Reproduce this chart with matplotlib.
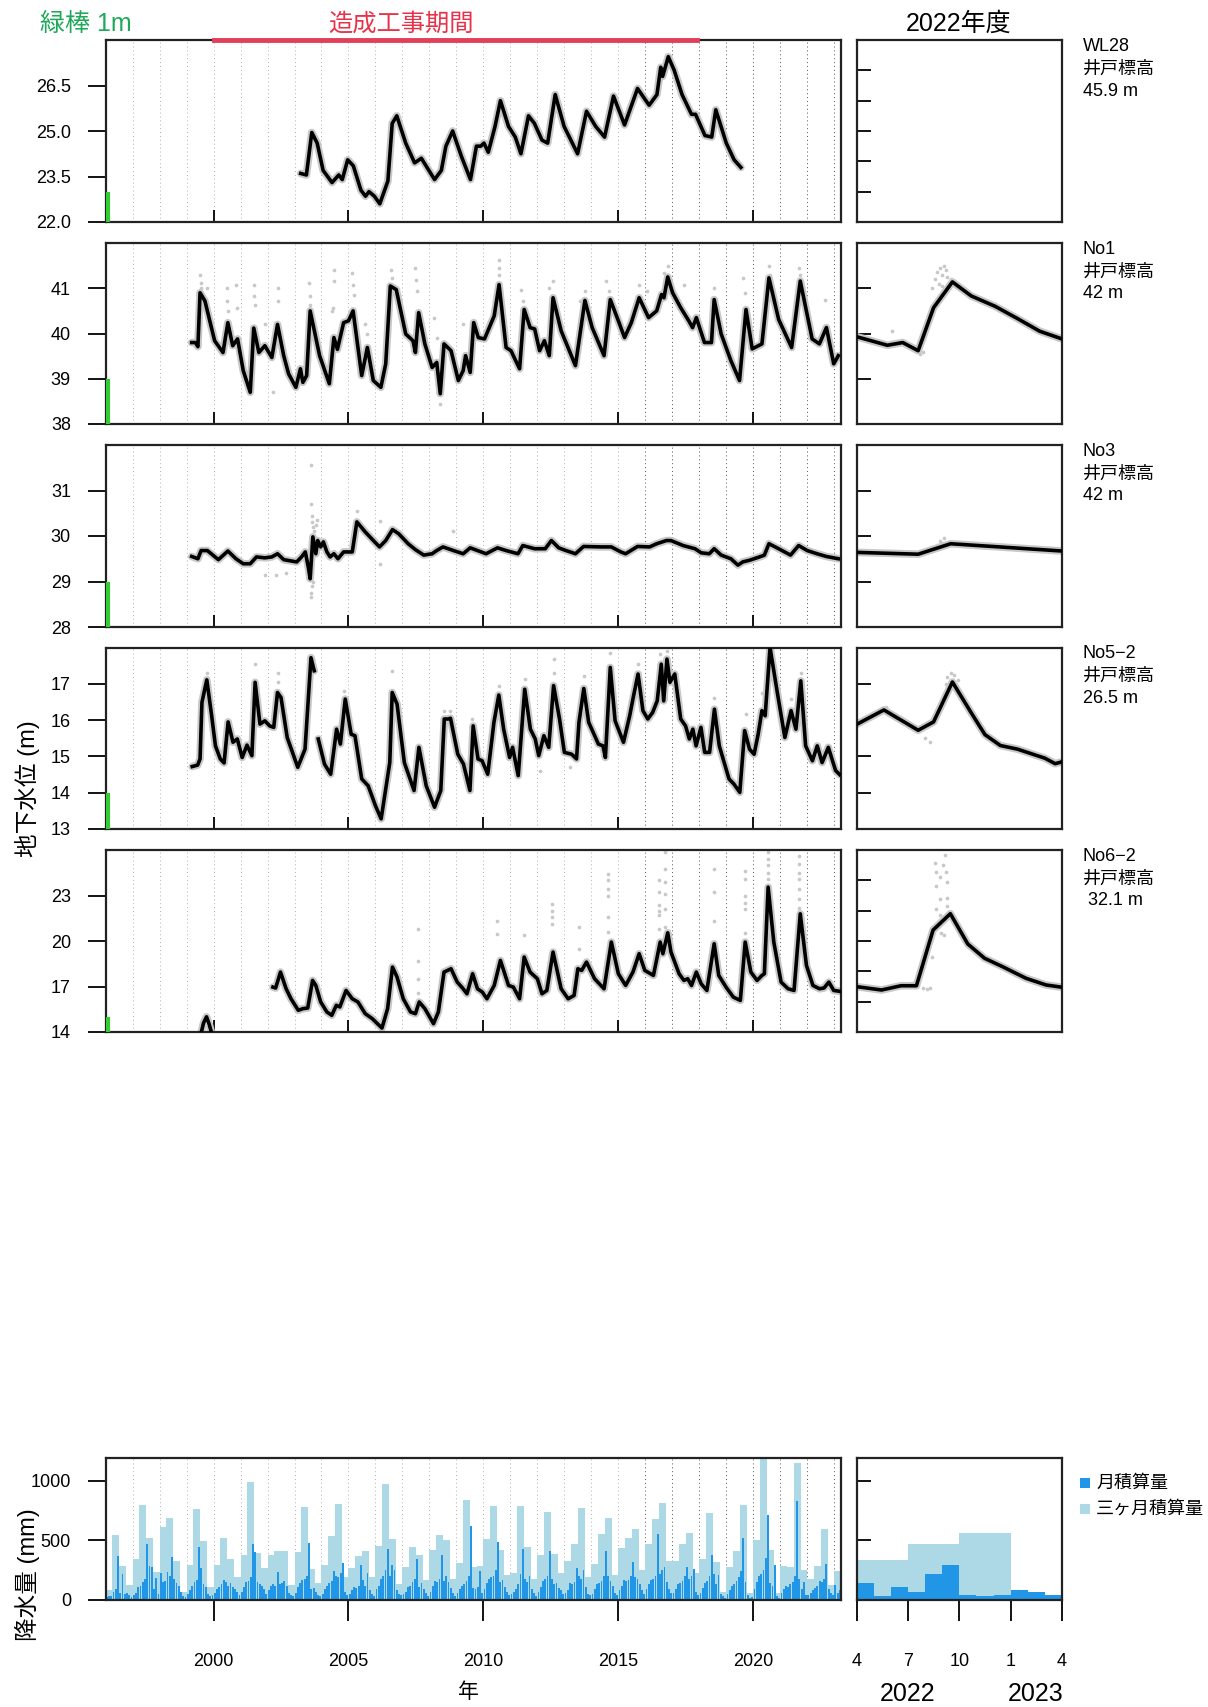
import matplotlib.pyplot as plt
from matplotlib.patches import Rectangle
import numpy as np

plt.rcParams['font.family'] = ['Liberation Sans', 'Noto Sans CJK JP', 'DejaVu Sans']

# ---- groundwater level series (year, m) ----
wl28_t = [2003.23, 2003.44, 2003.64, 2003.84, 2004.06, 2004.39, 2004.64, 2004.77, 2004.97, 2005.18,
          2005.46, 2005.63, 2005.76, 2005.96, 2006.16, 2006.46, 2006.62, 2006.79, 2007.12, 2007.45,
          2007.70, 2008.19, 2008.44, 2008.61, 2008.86, 2009.19, 2009.52, 2009.74, 2009.90, 2010.02,
          2010.18, 2010.43, 2010.63, 2010.93, 2011.18, 2011.39, 2011.67, 2011.89, 2012.17, 2012.38,
          2012.66, 2012.99, 2013.49, 2013.82, 2014.16, 2014.49, 2014.82, 2015.23, 2015.71, 2016.14,
          2016.43, 2016.57, 2016.64, 2016.85, 2017.07, 2017.36, 2017.71, 2017.86, 2018.21, 2018.46,
          2018.61, 2019.00, 2019.29, 2019.54]
wl28_v = [23.6, 23.55, 24.95, 24.6, 23.7, 23.3, 23.55, 23.4, 24.05, 23.85,
          23.05, 22.85, 23.0, 22.85, 22.6, 23.35, 25.25, 25.5, 24.6, 23.95,
          24.1, 23.4, 23.7, 24.5, 25.0, 24.15, 23.4, 24.5, 24.5, 24.6,
          24.3, 25.15, 26.0, 25.15, 24.8, 24.25, 25.5, 25.25, 24.7, 24.6,
          26.2, 25.15, 24.25, 25.65, 25.15, 24.8, 26.15, 25.2, 26.4, 25.85,
          26.2, 27.1, 26.8, 27.45, 27.0, 26.2, 25.55, 25.55, 24.85, 24.8,
          25.7, 24.6, 24.05, 23.8]

no1_t = [1999.19, 1999.33, 1999.42, 1999.50, 1999.68, 2000.04, 2000.35, 2000.53, 2000.71, 2000.89,
         2001.10, 2001.36, 2001.49, 2001.68, 2001.90, 2002.16, 2002.37, 2002.60, 2002.78, 2003.05,
         2003.22, 2003.31, 2003.45, 2003.58, 2003.93, 2004.29, 2004.46, 2004.59, 2004.82, 2005.00,
         2005.17, 2005.49, 2005.70, 2005.92, 2006.20, 2006.38, 2006.55, 2006.77, 2007.12, 2007.39,
         2007.48, 2007.60, 2007.83, 2008.10, 2008.27, 2008.40, 2008.54, 2008.80, 2009.07, 2009.25,
         2009.34, 2009.51, 2009.64, 2009.81, 2010.04, 2010.40, 2010.58, 2010.84, 2011.02, 2011.34,
         2011.51, 2011.73, 2011.90, 2012.08, 2012.26, 2012.44, 2012.58, 2012.88, 2013.41, 2013.76,
         2014.03, 2014.47, 2014.70, 2015.00, 2015.23, 2015.48, 2015.77, 2016.12, 2016.42, 2016.60,
         2016.69, 2016.83, 2017.01, 2017.31, 2017.61, 2017.75, 2017.89, 2018.19, 2018.45, 2018.55,
         2018.81, 2019.17, 2019.49, 2019.73, 2019.96, 2020.32, 2020.58, 2020.94, 2021.42, 2021.74,
         2022.18, 2022.45, 2022.71, 2022.98, 2023.15]
no1_v = [39.80, 39.80, 39.71, 40.90, 40.72, 39.84, 39.58, 40.24, 39.73, 39.88,
         39.18, 38.70, 40.12, 39.58, 39.73, 39.47, 40.20, 39.51, 39.11, 38.81,
         39.22, 38.92, 39.07, 40.50, 39.51, 38.89, 39.91, 39.65, 40.24, 40.28,
         40.50, 39.07, 39.69, 38.96, 38.81, 39.33, 41.05, 40.97, 39.99, 39.84,
         39.58, 40.46, 39.77, 39.25, 39.36, 38.67, 39.77, 39.62, 38.96, 39.18,
         39.51, 39.14, 40.24, 39.91, 39.88, 40.39, 41.08, 39.69, 39.62, 39.22,
         40.53, 40.13, 40.10, 39.62, 39.84, 39.51, 40.79, 40.06, 39.29, 40.73,
         40.13, 39.51, 40.75, 40.28, 39.91, 40.24, 40.79, 40.35, 40.50, 40.86,
         40.79, 41.25, 40.90, 40.57, 40.28, 40.13, 40.35, 39.80, 39.80, 40.75,
         39.99, 39.40, 38.96, 40.53, 39.66, 39.77, 41.23, 40.31, 39.69, 41.16,
         39.88, 39.77, 40.13, 39.33, 39.51]

no3_t = [1999.19, 1999.33, 1999.42, 1999.54, 1999.77, 2000.18, 2000.53, 2000.83, 2001.10, 2001.36,
         2001.59, 2001.90, 2002.16, 2002.37, 2002.60, 2003.08, 2003.26, 2003.40, 2003.51, 2003.58,
         2003.68, 2003.79, 2003.86, 2003.97, 2004.07, 2004.20, 2004.32, 2004.46, 2004.61, 2004.82,
         2005.14, 2005.31, 2005.62, 2005.97, 2006.15, 2006.38, 2006.63, 2006.86, 2007.21, 2007.48,
         2007.79, 2008.10, 2008.27, 2008.50, 2008.89, 2009.25, 2009.51, 2009.78, 2010.10, 2010.52,
         2010.84, 2011.28, 2011.46, 2011.90, 2012.29, 2012.52, 2012.79, 2013.06, 2013.41, 2013.71,
         2014.38, 2014.74, 2015.09, 2015.27, 2015.71, 2016.16, 2016.42, 2016.78, 2016.95, 2017.40,
         2017.84, 2018.07, 2018.37, 2018.55, 2018.81, 2019.17, 2019.43, 2019.61, 2019.88, 2020.23,
         2020.41, 2020.58, 2020.94, 2021.38, 2021.68, 2022.00, 2022.36, 2022.71, 2023.15]
no3_v = [29.55, 29.52, 29.50, 29.68, 29.68, 29.48, 29.67, 29.50, 29.39, 29.39,
         29.54, 29.52, 29.54, 29.61, 29.48, 29.43, 29.54, 29.65, 29.32, 29.06,
         29.98, 29.61, 29.90, 29.76, 29.87, 29.65, 29.54, 29.61, 29.50, 29.65,
         29.65, 30.31, 30.09, 29.87, 29.76, 29.90, 30.14, 30.05, 29.83, 29.70,
         29.58, 29.61, 29.68, 29.76, 29.68, 29.61, 29.74, 29.68, 29.61, 29.74,
         29.68, 29.61, 29.79, 29.72, 29.72, 29.90, 29.74, 29.68, 29.61, 29.77,
         29.76, 29.76, 29.65, 29.61, 29.77, 29.76, 29.83, 29.90, 29.90, 29.79,
         29.72, 29.63, 29.61, 29.72, 29.58, 29.50, 29.36, 29.43, 29.47, 29.54,
         29.58, 29.83, 29.72, 29.58, 29.79, 29.68, 29.61, 29.55, 29.50]

no52_t = [1999.21, 1999.41, 1999.50, 1999.57, 1999.75, 1999.93, 2000.07, 2000.25, 2000.39, 2000.54,
          2000.72, 2000.88, 2001.06, 2001.24, 2001.42, 2001.54, 2001.72, 2001.90, 2002.08, 2002.23,
          2002.37, 2002.50, 2002.73, 2003.12, 2003.39, 2003.61, 2003.73, 2003.80, 2003.88, 2004.11,
          2004.34, 2004.56, 2004.70, 2004.88, 2005.10, 2005.24, 2005.49, 2005.73, 2006.00, 2006.21,
          2006.53, 2006.62, 2006.80, 2007.07, 2007.43, 2007.61, 2007.88, 2008.19, 2008.42, 2008.55,
          2008.69, 2008.78, 2009.05, 2009.26, 2009.41, 2009.50, 2009.62, 2009.80, 2009.95, 2010.16,
          2010.39, 2010.57, 2010.75, 2010.97, 2011.08, 2011.29, 2011.53, 2011.74, 2011.92, 2012.05,
          2012.24, 2012.42, 2012.60, 2012.82, 2013.00, 2013.27, 2013.45, 2013.54, 2013.72, 2013.90,
          2014.26, 2014.43, 2014.52, 2014.70, 2014.88, 2015.19, 2015.42, 2015.55, 2015.73, 2015.91,
          2016.09, 2016.27, 2016.44, 2016.59, 2016.68, 2016.80, 2016.91, 2017.09, 2017.31, 2017.49,
          2017.63, 2017.76, 2017.88, 2018.06, 2018.20, 2018.38, 2018.56, 2018.74, 2019.10, 2019.28,
          2019.50, 2019.68, 2019.86, 2020.03, 2020.18, 2020.32, 2020.44, 2020.62, 2020.89, 2021.17,
          2021.40, 2021.58, 2021.76, 2021.94, 2022.19, 2022.37, 2022.55, 2022.78, 2023.05, 2023.20]
no52_v = [14.72, 14.76, 14.93, 16.49, 17.11, 16.12, 15.29, 14.93, 14.82, 15.95,
          15.39, 15.48, 14.97, 15.31, 15.02, 17.04, 15.89, 15.98, 15.84, 15.80,
          16.76, 16.62, 15.52, 14.70, 15.20, 17.72, 17.36, np.nan, 15.48, 14.79,
          14.51, 15.75, 15.34, 16.58, 15.61, 15.57, 14.38, 14.19, 13.64, 13.28,
          14.83, 16.76, 16.44, 14.83, 14.06, 15.25, 14.19, 13.60, 14.06, 16.03,
          16.03, 16.05, 15.06, 14.79, 14.33, 14.06, 15.84, 14.93, 14.88, 14.51,
          15.94, 16.69, 15.75, 14.97, 15.25, 14.47, 16.85, 15.75, 15.48, 15.02,
          15.57, 15.25, 16.95, 16.03, 15.11, 15.06, 14.93, 15.94, 16.87, 15.94,
          15.34, 15.29, 14.97, 17.45, 15.98, 15.39, 16.12, 16.62, 17.27, 16.26,
          16.03, 16.21, 16.53, 17.54, 16.53, 17.68, 17.04, 17.27, 16.03, 15.84,
          15.48, 15.75, 15.29, 15.80, 15.11, 15.11, 16.30, 15.29, 14.38, 14.24,
          14.01, 15.71, 15.20, 15.06, 15.61, 16.26, 16.12, 18.00, 16.76, 15.52,
          16.26, 15.75, 17.08, 15.29, 14.88, 15.29, 14.83, 15.25, 14.61, 14.50]

no62_t = [1999.52, 1999.63, 1999.74, 1999.84, 1999.95, 2000.00, 2002.20, 2002.30, 2002.48, 2002.69,
          2002.87, 2003.14, 2003.31, 2003.49, 2003.67, 2003.79, 2003.97, 2004.20, 2004.38, 2004.55,
          2004.68, 2004.91, 2005.14, 2005.35, 2005.62, 2005.88, 2006.24, 2006.45, 2006.63, 2006.80,
          2007.03, 2007.30, 2007.48, 2007.62, 2007.83, 2008.15, 2008.33, 2008.54, 2008.80, 2009.03,
          2009.25, 2009.39, 2009.60, 2009.78, 2009.96, 2010.13, 2010.40, 2010.63, 2010.93, 2011.11,
          2011.34, 2011.51, 2011.73, 2012.00, 2012.17, 2012.35, 2012.58, 2012.88, 2013.14, 2013.36,
          2013.50, 2013.64, 2013.82, 2014.12, 2014.47, 2014.74, 2015.00, 2015.27, 2015.54, 2015.77,
          2015.98, 2016.30, 2016.55, 2016.65, 2016.83, 2016.95, 2017.25, 2017.43, 2017.57, 2017.71,
          2017.89, 2018.07, 2018.28, 2018.55, 2018.72, 2018.99, 2019.26, 2019.52, 2019.70, 2019.91,
          2020.14, 2020.32, 2020.41, 2020.55, 2020.76, 2021.03, 2021.29, 2021.51, 2021.74, 2021.97,
          2022.21, 2022.45, 2022.62, 2022.80, 2022.98, 2023.21]
no62_v = [13.8, 14.6, 15.0, 14.5, 13.8, np.nan, 16.96, 16.90, 17.95, 16.85,
          16.19, 15.43, 15.54, 15.58, 17.40, 17.07, 15.98, 15.32, 15.10, 15.76,
          15.65, 16.74, 16.19, 15.98, 15.21, 14.88, 14.26, 15.54, 18.28, 17.62,
          16.19, 15.32, 15.21, 15.98, 15.54, 14.55, 15.32, 17.95, 18.17, 17.29,
          16.85, 16.52, 17.84, 16.85, 16.63, 16.19, 17.07, 18.72, 17.07, 16.96,
          16.19, 18.94, 17.95, 17.51, 16.52, 16.74, 19.27, 16.85, 16.19, 16.41,
          18.17, 18.06, 18.61, 17.51, 16.85, 19.93, 17.84, 17.07, 17.95, 19.16,
          18.06, 17.73, 19.93, 19.16, 20.54, 19.27, 17.84, 17.40, 17.51, 17.07,
          17.95, 17.18, 16.74, 19.82, 17.73, 16.96, 16.30, 16.08, 19.93, 17.95,
          17.40, 17.73, 17.84, 23.55, 19.93, 17.29, 16.85, 16.74, 21.79, 18.39,
          17.07, 16.85, 16.90, 17.29, 16.74, 16.68]

# stray logger readings (year, m)
no1_dot_t = [1999.50, 1999.52, 1999.55, 1999.77, 2000.48, 2000.49, 2000.53, 2000.83, 2000.86, 2001.49,
             2001.50, 2001.53, 2001.90, 2002.37, 2002.38, 2002.20, 2003.54, 2003.57, 2003.57, 2004.46,
             2004.46, 2004.42, 2004.40, 2005.14, 2005.17, 2005.20, 2005.62, 2005.70, 2006.59, 2006.62,
             2007.48, 2007.51, 2007.55, 2008.18, 2008.27, 2008.40, 2009.25, 2010.58, 2010.58, 2010.58,
             2011.41, 2011.46, 2012.44, 2012.58, 2013.59, 2013.76, 2014.56, 2014.65, 2015.77, 2016.07,
             2016.69, 2016.83, 2017.43, 2018.55, 2019.61, 2019.70, 2020.58, 2020.62, 2021.68, 2021.74,
             2022.67]
no1_dot_v = [41.30, 41.12, 41.00, 41.00, 41.00, 40.72, 40.50, 41.07, 40.57, 41.08,
             40.83, 40.64, 40.20, 41.00, 40.72, 38.70, 41.12, 40.83, 40.64, 41.41,
             41.16, 40.57, 40.50, 41.34, 41.08, 40.86, 40.20, 40.00, 41.41, 41.23,
             41.45, 41.19, 40.94, 40.35, 39.91, 38.45, 40.20, 41.63, 41.45, 41.30,
             40.97, 40.72, 41.01, 41.16, 40.72, 40.94, 41.16, 40.95, 41.08, 40.94,
             41.34, 41.49, 41.08, 41.01, 41.23, 40.90, 41.49, 41.30, 41.45, 41.30,
             40.75]
no3_dot_t = [2003.60, 2003.62, 2003.64, 2003.66, 2003.70, 2003.72, 2003.60, 2003.62, 2003.64, 2003.68,
             2003.80, 2003.84, 2001.90, 2002.30, 2002.69, 2005.30, 2006.15, 2006.15, 2008.89]
no3_dot_v = [31.57, 30.71, 30.45, 30.30, 30.20, 30.10, 28.66, 28.75, 28.90, 29.00,
             30.25, 30.35, 29.14, 29.14, 29.18, 30.56, 30.34, 29.39, 30.12]
no52_dot_t = [1999.75, 2001.54, 2002.37, 2002.40, 2003.70, 2003.66, 2004.83, 2006.62, 2008.55, 2008.78,
              2009.59, 2010.57, 2011.53, 2012.60, 2012.62, 2013.72, 2014.70, 2015.73, 2016.55, 2016.80,
              2018.56, 2019.72, 2020.34, 2021.40, 2021.76, 2012.10, 2013.20]
no52_dot_v = [17.31, 17.54, 17.31, 17.04, 17.68, 17.45, 16.81, 17.36, 16.26, 16.26,
              16.03, 16.94, 17.13, 17.68, 17.31, 17.22, 17.86, 17.54, 17.82, 17.91,
              16.62, 16.17, 16.76, 16.58, 17.31, 14.60, 14.70]
no62_dot_t = [2007.56, 2007.56, 2007.56, 2007.58, 2010.52, 2010.52, 2011.51, 2012.54, 2012.54, 2012.54,
              2012.54, 2013.53, 2013.53, 2014.60, 2014.60, 2014.60, 2014.60, 2014.60, 2014.60, 2016.51,
              2016.51, 2016.51, 2016.51, 2016.51, 2016.51, 2016.74, 2016.74, 2016.74, 2016.74, 2016.74,
              2016.74, 2016.74, 2018.55, 2018.55, 2018.55, 2019.70, 2019.70, 2019.70, 2019.70, 2019.70,
              2019.70, 2020.55, 2020.55, 2020.55, 2020.55, 2020.55, 2021.68, 2021.68, 2021.68, 2021.68,
              2021.68, 2021.68, 2021.68]
no62_dot_v = [20.8, 18.7, 17.5, 16.6, 21.35, 20.47, 20.4, 22.45, 22.0, 21.57,
              21.1, 20.9, 19.5, 24.4, 24.0, 23.4, 23.0, 21.57, 20.58, 24.0,
              23.2, 22.4, 22.0, 21.7, 20.8, 25.85, 24.75, 23.9, 23.1, 22.1,
              20.9, 19.3, 24.75, 23.2, 21.35, 24.6, 24.1, 23.0, 22.5, 22.1,
              20.5, 25.85, 25.4, 25.0, 24.5, 24.1, 25.6, 25.1, 24.5, 24.1,
              23.4, 22.8, 22.2]

# ---- fiscal year 2022 (months from April 2022) ----
fy_no1_m = [0, 1.8, 2.7, 3.6, 4.5, 5.6, 6.7, 8.1, 9.4, 10.7, 12]
fy_no1_v = [39.93, 39.74, 39.80, 39.62, 40.57, 41.14, 40.83, 40.60, 40.33, 40.05, 39.88]
fy_no1_dot_m = [4.4, 4.6, 4.7, 4.9, 5.0, 5.1, 5.2, 5.3, 4.8, 5.0, 3.7, 3.9, 2.1, 5.5]
fy_no1_dot_v = [41.0, 41.2, 41.35, 41.45, 41.3, 41.5, 41.4, 41.25, 41.1, 41.05, 39.55, 39.6, 40.05, 41.2]
fy_no3_m = [0, 1.8, 3.6, 5.5, 12]
fy_no3_v = [29.64, 29.62, 29.60, 29.83, 29.67]
fy_no3_dot_m = [4.7, 4.9, 5.0, 5.1]
fy_no3_dot_v = [29.80, 29.90, 29.85, 29.95]
fy_no52_m = [0, 1.6, 3.6, 4.5, 5.6, 6.7, 7.5, 8.4, 9.4, 11.0, 11.6, 12]
fy_no52_v = [15.88, 16.28, 15.72, 15.95, 17.05, 16.20, 15.60, 15.30, 15.20, 14.95, 14.80, 14.85]
fy_no52_dot_m = [5.3, 5.5, 5.7, 5.2, 4.3, 4.0, 1.7, 5.9]
fy_no52_dot_v = [17.2, 17.3, 17.25, 17.0, 15.4, 15.5, 16.35, 17.1]
fy_no62_m = [0, 1.46, 2.6, 3.5, 4.47, 5.48, 6.5, 7.48, 8.54, 9.9, 11.07, 12]
fy_no62_v = [16.99, 16.77, 17.05, 17.05, 20.72, 21.80, 19.80, 18.86, 18.30, 17.54, 17.10, 16.95]
fy_no62_dot_m = [4.56, 5.15, 5.05, 4.62, 5.2, 4.85, 5.3, 4.66, 4.9, 5.3, 4.66, 5.3, 4.85, 4.95, 5.1, 4.43,
                 3.9, 4.1, 4.3]
fy_no62_dot_v = [25.16, 25.67, 25.0, 24.57, 24.57, 24.2, 23.9, 23.6, 22.8, 22.85, 22.1, 22.3, 21.7, 20.5,
                 20.4, 18.96, 16.9, 16.85, 16.9]

# ---- precipitation (mm) ----
rain_month = [
    25, 30, 35, 70, 95, 372, 55, 216, 50, 60, 40, 25,        # 1996
    40, 60, 110, 120, 150, 180, 466, 283, 277, 90, 184, 50,  # 1997
    229, 150, 160, 232, 200, 362, 180, 140, 120, 70, 35, 25,  # 1998
    50, 80, 120, 150, 170, 445, 266, 130, 110, 50, 30, 40,    # 1999
    60, 90, 110, 130, 166, 150, 120, 140, 110, 90, 70, 40,    # 2000
    70, 110, 150, 160, 190, 466, 400, 150, 130, 120, 90, 50,  # 2001
    80, 120, 130, 120, 238, 130, 140, 160, 120, 60, 40, 30,   # 2002
    60, 110, 140, 170, 180, 200, 480, 90, 100, 70, 45, 30,    # 2003
    50, 90, 120, 140, 160, 240, 200, 190, 230, 310, 70, 40,   # 2004
    50, 80, 110, 100, 120, 290, 170, 120, 227, 80, 50, 35,    # 2005
    90, 120, 180, 200, 250, 430, 200, 290, 255, 80, 50, 40,   # 2006
    50, 70, 110, 120, 150, 180, 340, 110, 140, 90, 60, 30,    # 2007
    70, 120, 160, 150, 180, 375, 160, 200, 150, 100, 60, 35,  # 2008
    60, 90, 120, 130, 160, 200, 620, 100, 90, 110, 241, 60,   # 2009
    90, 140, 180, 190, 200, 250, 485, 150, 170, 110, 70, 40,  # 2010
    50, 70, 90, 130, 220, 424, 180, 150, 200, 90, 60, 30,     # 2011
    70, 110, 160, 180, 200, 412, 180, 130, 140, 100, 80, 50,  # 2012
    60, 80, 140, 130, 150, 270, 200, 180, 250, 110, 50, 40,   # 2013
    50, 90, 130, 140, 160, 200, 410, 200, 160, 120, 60, 40,   # 2014
    80, 120, 170, 160, 170, 200, 320, 190, 180, 130, 80, 50,  # 2015
    90, 130, 170, 180, 200, 553, 220, 250, 280, 150, 90, 60,  # 2016
    60, 90, 130, 140, 160, 200, 280, 180, 200, 260, 70, 40,   # 2017
    60, 100, 140, 160, 200, 377, 220, 130, 212, 50, 30, 20,   # 2018
    50, 80, 120, 130, 160, 190, 241, 522, 150, 40, 20, 25,    # 2019
    90, 150, 200, 220, 250, 354, 715, 140, 120, 294, 30, 20,  # 2020
    60, 90, 120, 110, 130, 150, 200, 833, 180, 90, 147, 40,   # 2021
    40, 60, 80, 100, 120, 160, 150, 180, 300, 90, 60, 40,     # 2022
    127, 60, 80,                                              # 2023
]
rain_3month = [
    85, 541, 289, 122, 346, 793, 518, 232, 609, 686, 326, 71,
    297, 759, 496, 113, 297, 518, 346, 190, 374, 989, 397, 266,
    380, 414, 414, 122, 400, 777, 262, 145, 290, 540, 805, 190,
    270, 368, 409, 192, 451, 971, 515, 138, 280, 446, 380, 171,
    420, 547, 502, 175, 310, 842, 278, 285, 509, 788, 420, 207,
    226, 790, 444, 178, 380, 738, 385, 226, 330, 471, 775, 195,
    305, 550, 686, 212, 433, 520, 593, 255, 466, 677, 814, 329,
    329, 471, 563, 225, 343, 726, 316, 65, 279, 410, 794, 58,
    500, 1192, 415, 57, 286, 279, 1146, 253, 174, 289, 594, 128,
    245,
]
fy_rain_month = [142, 34, 108, 71, 221, 295, 42, 37, 42, 82, 65, 40]
fy_rain_3month = [334, 467, 561]

wells = [
    dict(name='WL28', elev='45.9 m', t=wl28_t, v=wl28_v, dt=[], dv=[],
         ylim=(22, 28), yt=[22, 23.5, 25, 26.5], ytl=['22.0', '23.5', '25.0', '26.5'],
         fm=[], fv=[], fdm=[], fdv=[], ryt=[23, 24, 25, 26, 27]),
    dict(name='No1', elev='42 m', t=no1_t, v=no1_v, dt=no1_dot_t, dv=no1_dot_v,
         ylim=(38, 42), yt=[38, 39, 40, 41], ytl=['38', '39', '40', '41'],
         fm=fy_no1_m, fv=fy_no1_v, fdm=fy_no1_dot_m, fdv=fy_no1_dot_v, ryt=[39, 40, 41]),
    dict(name='No3', elev='42 m', t=no3_t, v=no3_v, dt=no3_dot_t, dv=no3_dot_v,
         ylim=(28, 32), yt=[28, 29, 30, 31], ytl=['28', '29', '30', '31'],
         fm=fy_no3_m, fv=fy_no3_v, fdm=fy_no3_dot_m, fdv=fy_no3_dot_v, ryt=[29, 30, 31]),
    dict(name='No5\u22122', elev='26.5 m', t=no52_t, v=no52_v, dt=no52_dot_t, dv=no52_dot_v,
         ylim=(13, 18), yt=[13, 14, 15, 16, 17], ytl=['13', '14', '15', '16', '17'],
         fm=fy_no52_m, fv=fy_no52_v, fdm=fy_no52_dot_m, fdv=fy_no52_dot_v, ryt=[14, 15, 16, 17]),
    dict(name='No6\u22122', elev=' 32.1 m', t=no62_t, v=no62_v, dt=no62_dot_t, dv=no62_dot_v,
         ylim=(14, 26), yt=[14, 17, 20, 23], ytl=['14', '17', '20', '23'],
         fm=fy_no62_m, fv=fy_no62_v, fdm=fy_no62_dot_m, fdv=fy_no62_dot_v, ryt=[16, 18, 20, 22, 24]),
]

W, H = 1208, 1707
fig = plt.figure(figsize=(W / 100, H / 100), dpi=100)


def box(l, t, r, b):
    return [l / W, 1 - b / H, (r - l) / W, (b - t) / H]


MAIN_L, MAIN_R = 105.6, 841
SUB_L, SUB_R = 856.5, 1062
rows = [(40, 222), (243, 424), (445, 627), (647.5, 829), (850, 1032)]
T0, T1 = 1996.0, 2023.25
GRAY = '#c8c8c8'


def frame(ax):
    for s in ax.spines.values():
        s.set_linewidth(1.6)
        s.set_color('#222222')


def year_grid(ax):
    for yr in range(1997, 2024):
        ax.axvline(yr, color='#b0b0b0' if yr < 2016 else '#555555', lw=0.7,
                   ls=(0, (1, 3)), zorder=0.5)


for w, (top, bot) in zip(wells, rows):
    ax = fig.add_axes(box(MAIN_L, top, MAIN_R, bot))
    frame(ax)
    year_grid(ax)
    ax.plot(w['t'], w['v'], color=GRAY, lw=5.5, zorder=2, solid_capstyle='round')
    if w['dt']:
        ax.scatter(w['dt'], w['dv'], s=7, color=GRAY, lw=0, zorder=2)
    ax.plot(w['t'], w['v'], color='black', lw=2.6, zorder=3)
    y0 = w['ylim'][0]
    ax.plot([1996.08, 1996.08], [y0, y0 + 1], color='#33cc33', lw=3, solid_capstyle='butt',
            zorder=4)
    ax.set_xlim(T0, T1)
    ax.set_ylim(*w['ylim'])
    ax.set_yticks(w['yt'])
    ax.set_yticklabels(w['ytl'])
    ax.set_xticks([2000, 2005, 2010, 2015, 2020])
    ax.tick_params(axis='x', direction='in', length=9, width=1.3, labelbottom=False)
    ax.tick_params(axis='y', direction='out', length=13, width=1.3, pad=12, labelsize=13)

    sub = fig.add_axes(box(SUB_L, top, SUB_R, bot))
    frame(sub)
    if w['fm']:
        sub.plot(w['fm'], w['fv'], color=GRAY, lw=5.5, zorder=2)
        sub.scatter(w['fdm'], w['fdv'], s=7, color=GRAY, lw=0, zorder=2)
        sub.plot(w['fm'], w['fv'], color='black', lw=2.6, zorder=3)
    sub.set_xlim(0, 12)
    sub.set_ylim(*w['ylim'])
    sub.set_xticks([])
    sub.set_yticks(w['ryt'])
    sub.tick_params(axis='y', direction='in', length=10, width=1.3, labelleft=False)

    ys = [top + 6.5, top + 29, top + 51]
    for txt, y in zip([w['name'], '井戸標高', w['elev']], ys):
        fig.text(1083 / W, 1 - y / H, txt, fontsize=13, ha='left', va='center')

# construction period marker along the top of the first panel
ax0 = fig.axes[0]
ax0.plot([2000.0, 2017.9], [28, 28], color='#e0405a', lw=3.5, clip_on=False, zorder=5)

# ---- precipitation ----
P_TOP, P_BOT = 1458, 1600
rain_month = np.array(rain_month, dtype=float)
rain_3month = np.array(rain_3month, dtype=float)
m_x = T0 + np.arange(len(rain_month)) / 12
q_x = T0 + np.arange(len(rain_3month)) * 0.25

axp = fig.add_axes(box(MAIN_L, P_TOP, MAIN_R, P_BOT))
frame(axp)
axp.bar(q_x, rain_3month, width=0.25, align='edge', color='#add8e6', lw=0, zorder=1)
axp.bar(m_x + 0.1 / 12, rain_month, width=0.8 / 12, align='edge', color='#2196e6', lw=0,
        zorder=2)
year_grid(axp)
axp.set_xlim(T0, T1)
axp.set_ylim(0, 1190)
axp.set_yticks([0, 500, 1000])
axp.set_xticks([2000, 2005, 2010, 2015, 2020])
axp.tick_params(axis='x', direction='out', length=15, width=1.3, pad=23, labelsize=13)
axp.tick_params(axis='y', direction='out', length=13, width=1.3, pad=12, labelsize=13)

subp = fig.add_axes(box(SUB_L, P_TOP, SUB_R, P_BOT))
frame(subp)
subp.bar(np.arange(len(fy_rain_3month)) * 3, fy_rain_3month, width=3, align='edge',
         color='#add8e6', lw=0, zorder=1)
subp.bar(np.arange(len(fy_rain_month)), fy_rain_month, width=1, align='edge',
         color='#2196e6', lw=0, zorder=2)
subp.set_xlim(0, 12)
subp.set_ylim(0, 1190)
subp.set_yticks([0, 500, 1000])
subp.set_xticks([0, 3, 6, 9, 12])
subp.set_xticklabels(['4', '7', '10', '1', '4'])
subp.tick_params(axis='x', direction='out', length=15, width=1.3, pad=23, labelsize=13)
subp.tick_params(axis='y', direction='in', length=10, width=1.3, labelleft=False)

# legend
for y, col, lab in [(1483, '#2196e6', '月積算量'), (1509, '#add8e6', '三ヶ月積算量')]:
    fig.patches.append(Rectangle((1080 / W, 1 - (y + 5) / H), 10 / W, 10 / H,
                                 transform=fig.transFigure, color=col, lw=0))
    fig.text(1096 / W, 1 - y / H, lab, fontsize=13, ha='left', va='center')

# ---- titles and axis labels ----
fig.text(40 / W, 1 - 24 / H, '緑棒 1m', color='#1fa85a', fontsize=18, ha='left', va='center')
fig.text(401 / W, 1 - 24 / H, '造成工事期間', color='#e8324a', fontsize=17.5, ha='center',
         va='center')
fig.text(959 / W, 1 - 24 / H, '2022年度', fontsize=18, ha='center', va='center')
fig.text(27 / W, 1 - 789 / H, '地下水位 (m)', fontsize=17, rotation=90, ha='center', va='center')
fig.text(27 / W, 1 - 1575 / H, '降水量 (mm)', fontsize=17, rotation=90, ha='center', va='center')
fig.text(468 / W, 1 - 1692 / H, '年', fontsize=15, ha='center', va='center')
fig.text(908 / W, 1 - 1694 / H, '2022', fontsize=18, ha='center', va='center')
fig.text(1036 / W, 1 - 1694 / H, '2023', fontsize=18, ha='center', va='center')

fig.savefig('out.png', dpi=100)
